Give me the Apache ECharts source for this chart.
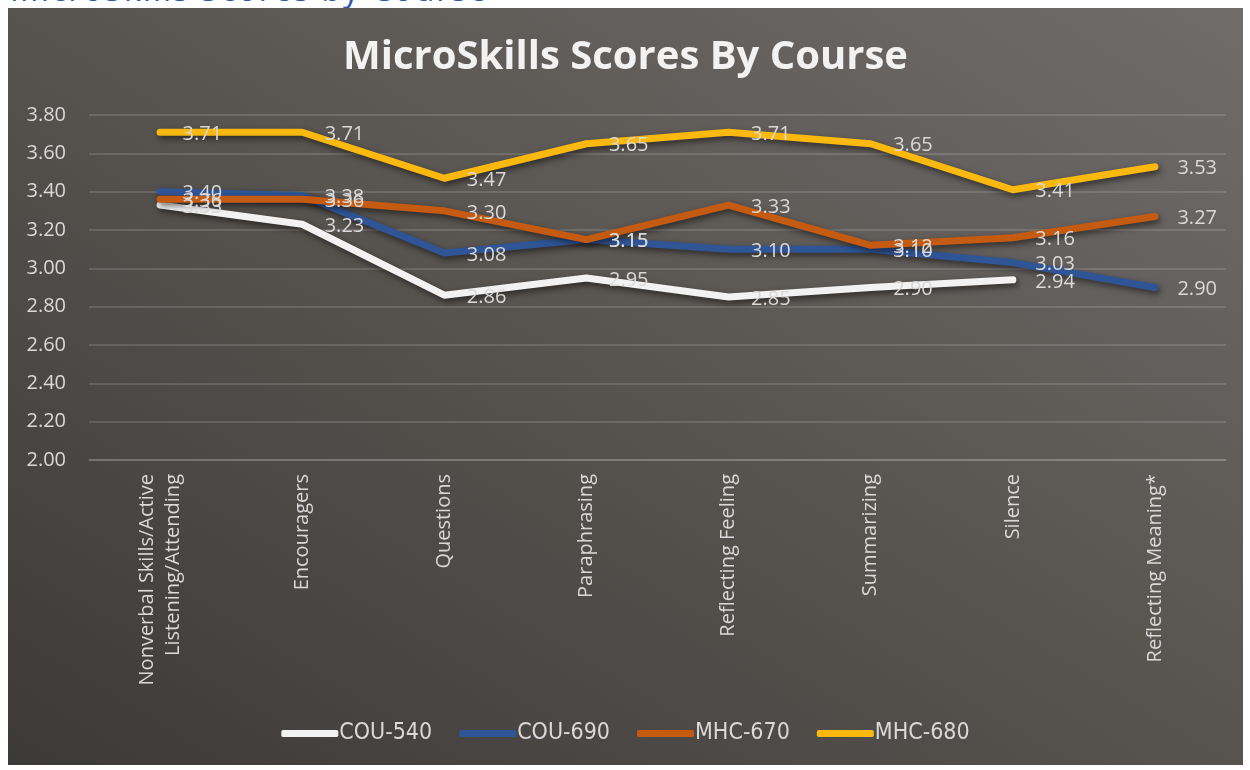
<!DOCTYPE html>
<html>
<head>
<meta charset="utf-8">
<title>MicroSkills Scores By Course</title>
<script src="https://cdn.jsdelivr.net/npm/echarts@6/dist/echarts.min.js"></script>
<style>
    html, body { margin: 0; padding: 0; background: #ffffff; }
    body { width: 1250px; height: 770px; position: relative; overflow: hidden; }
    #cut { position: absolute; left: 10px; top: -33px; font: 32px "Open Sans", sans-serif; color: #2c58a4; white-space: nowrap; letter-spacing: 2px; }
    #main {
        position: absolute; left: 8px; top: 8px; width: 1235px; height: 757px;
        background: linear-gradient(to top right, #3c3a39 0%, #57534f 50%, #706c6a 100%);
    }
</style>
</head>
<body>
<div id="cut">MicroSkills Scores by Course</div>
<div id="main"></div>
<script>
    // categories and values
    var skills = ["Nonverbal Skills/Active\nListening/Attending", "Encouragers", "Questions", "Paraphrasing",
        "Reflecting Feeling", "Summarizing", "Silence", "Reflecting Meaning*"];
    var cou540 = [3.33, 3.23, 2.86, 2.95, 2.85, 2.90, 2.94, null];
    var cou690 = [3.40, 3.38, 3.08, 3.15, 3.10, 3.10, 3.03, 2.90];
    var mhc670 = [3.36, 3.36, 3.30, 3.15, 3.33, 3.12, 3.16, 3.27];
    var mhc680 = [3.71, 3.71, 3.47, 3.65, 3.71, 3.65, 3.41, 3.53];
    var courses = ["COU-540", "COU-690", "MHC-670", "MHC-680"];
    var colors = ["#f2f2f2", "#2f5597", "#c55a11", "#fbb80f"];

    var textColor = "#d9d9d9";

    function makeSeries(name, data, color) {
        return {
            name: name,
            type: "line",
            data: data,
            symbol: "circle",
            symbolSize: 1,
            itemStyle: { color: color },
            lineStyle: {
                width: 7,
                color: color,
                cap: "round",
                join: "round",
                shadowColor: "rgba(0,0,0,0.55)",
                shadowBlur: 6,
                shadowOffsetX: 2,
                shadowOffsetY: 3
            },
            label: {
                show: true,
                position: "right",
                distance: 22,
                offset: [0, 2],
                color: textColor,
                fontSize: 20,
                fontFamily: "Open Sans",
                formatter: function (p) { return p.value == null ? "" : p.value.toFixed(2); }
            },
            connectNulls: false
        };
    }

    var myChart = echarts.init(document.getElementById('main'), null, { renderer: 'canvas' });
    var option = {
        backgroundColor: "transparent",
        title: {
            text: "MicroSkills Scores By Course",
            left: "center",
            top: 25,
            textStyle: {
                color: "#f2f2f2",
                fontSize: 40,
                fontWeight: "bold",
                fontFamily: "Open Sans"
            }
        },
        legend: {
            data: courses,
            bottom: 15,
            left: "center",
            icon: "roundRect",
            itemWidth: 57,
            itemHeight: 7,
            itemGap: 27,
            textStyle: {
                color: textColor,
                fontSize: 23,
                fontFamily: "Liberation Sans Narrow, DejaVu Sans Condensed, sans-serif",
                padding: [0, 0, 0, -4]
            }
        },
        grid: {
            left: 81,
            right: 17,
            top: 107,
            bottom: 305,
            containLabel: false
        },
        xAxis: [
            {
                type: "category",
                boundaryGap: true,
                data: skills,
                axisLine: { show: true, lineStyle: { color: "rgba(255,255,255,0.18)", width: 1.5 } },
                axisTick: { show: false },
                axisLabel: {
                    show: true,
                    rotate: 90,
                    interval: 0,
                    margin: 14,
                    color: textColor,
                    fontSize: 20,
                    lineHeight: 26,
                    fontFamily: "Open Sans"
                }
            }
        ],
        yAxis: [
            {
                type: "value",
                min: 2,
                max: 3.8,
                interval: 0.2,
                axisLine: { show: false },
                axisTick: { show: false },
                splitLine: { lineStyle: { color: "rgba(255,255,255,0.18)", width: 1.5 } },
                axisLabel: {
                    margin: 23,
                    color: textColor,
                    fontSize: 20,
                    fontFamily: "Open Sans",
                    formatter: function (v) { return v.toFixed(2); }
                }
            }
        ],
        series: [
            makeSeries(courses[0], cou540, colors[0]),
            makeSeries(courses[1], cou690, colors[1]),
            makeSeries(courses[2], mhc670, colors[2]),
            makeSeries(courses[3], mhc680, colors[3])
        ]
    };

    myChart.setOption(option);
</script>
</body>
</html>
